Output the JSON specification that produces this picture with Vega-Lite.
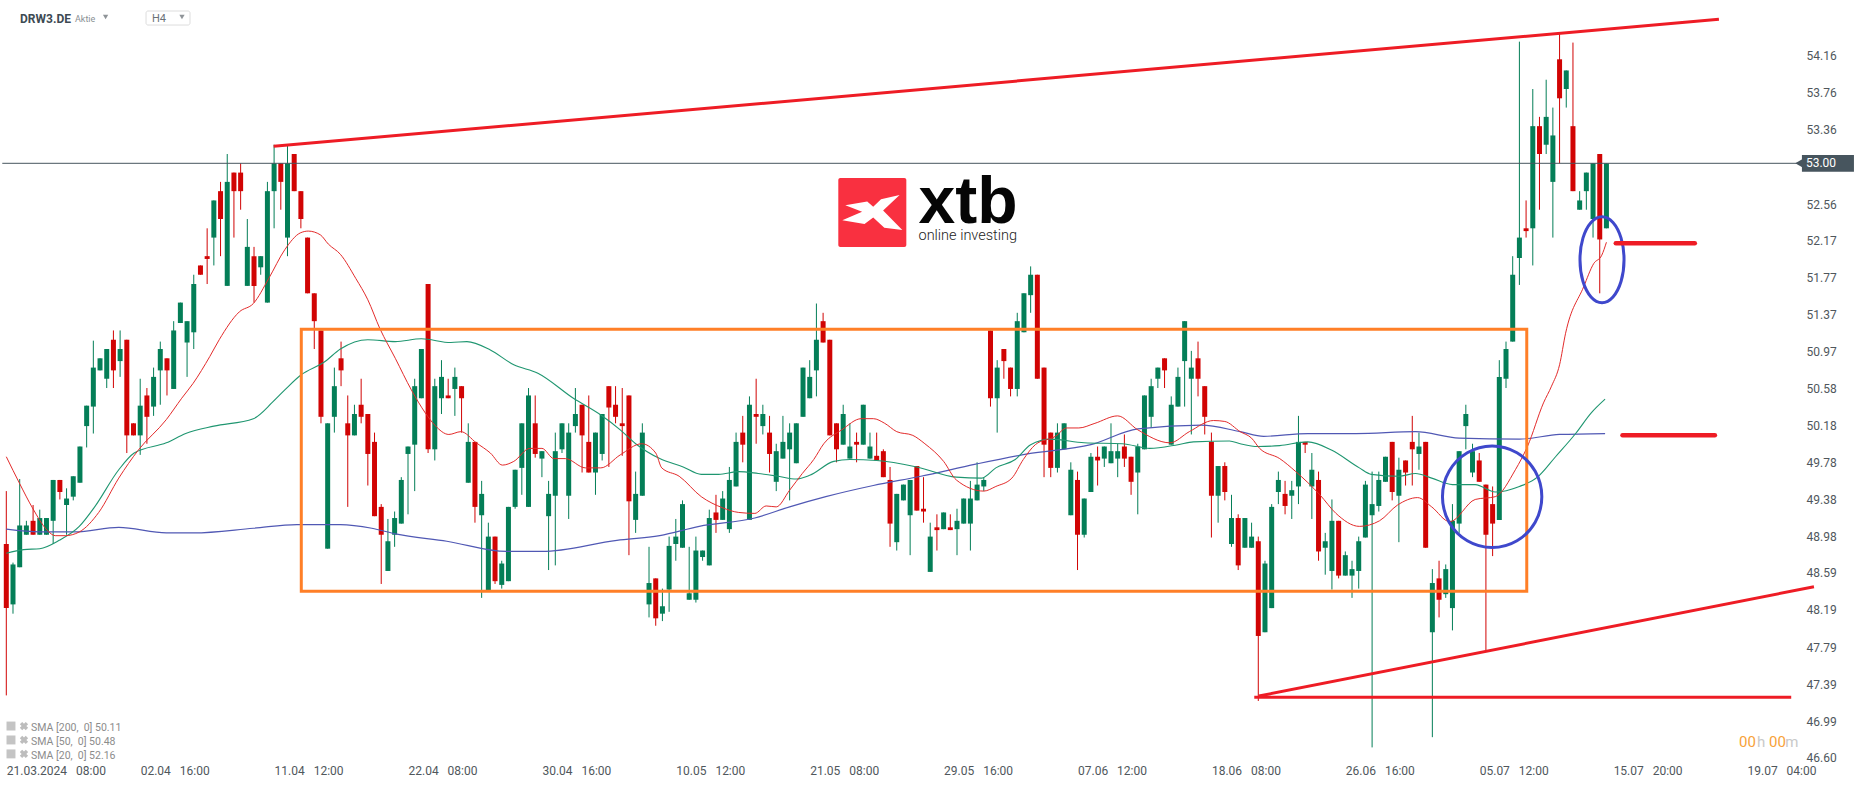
{
  "$schema": "https://vega.github.io/schema/vega-lite/v6.json",
  "width": 1866,
  "height": 787,
  "padding": 0,
  "autosize": "none",
  "background": "white",
  "view": {"stroke": null},
  "datasets": {
    "candles": [
      {"b":0,"o":48.9,"h":49.47,"l":47.27,"c":48.21},{"b":1,"o":48.25,"h":48.7,"l":48.15,"c":48.68},{"b":2,"o":48.65,"h":49.6,"l":48.65,"c":49.1},{"b":3,"o":49,"h":49.15,"l":49,"c":49.1},{"b":4,"o":49.15,"h":49.32,"l":49,"c":49},
      {"b":5,"o":49,"h":49.27,"l":49,"c":49.18},{"b":6,"o":49,"h":49.18,"l":49,"c":49.18},{"b":7,"o":49.15,"h":49.59,"l":48.9,"c":49.59},{"b":8,"o":49.59,"h":49.59,"l":49.38,"c":49.46},{"b":9,"o":49.32,"h":49.5,"l":49,"c":49.39},
      {"b":10,"o":49.41,"h":49.63,"l":49.37,"c":49.63},{"b":11,"o":49.56,"h":49.95,"l":49.56,"c":49.95},{"b":12,"o":50.17,"h":50.39,"l":49.94,"c":50.39},{"b":13,"o":50.38,"h":51.09,"l":50.09,"c":50.8},{"b":14,"o":50.77,"h":50.9,"l":50.77,"c":50.9},
      {"b":15,"o":50.68,"h":51,"l":50.58,"c":51},{"b":16,"o":51.1,"h":51.2,"l":50.58,"c":50.77},{"b":17,"o":50.87,"h":51.2,"l":50.7,"c":51},{"b":18,"o":51.1,"h":51.1,"l":49.88,"c":50.07},{"b":19,"o":50.2,"h":50.2,"l":50.07,"c":50.07},
      {"b":20,"o":50.07,"h":50.68,"l":49.86,"c":50.39},{"b":21,"o":50.5,"h":50.58,"l":49.98,"c":50.27},{"b":22,"o":50.38,"h":50.8,"l":50.28,"c":50.7},{"b":23,"o":50.77,"h":51.08,"l":50.4,"c":51},{"b":24,"o":50.9,"h":50.9,"l":50.5,"c":50.77},
      {"b":25,"o":50.57,"h":51.3,"l":50.57,"c":51.2},{"b":26,"o":51.28,"h":51.5,"l":51.28,"c":51.5},{"b":27,"o":51.07,"h":51.3,"l":50.7,"c":51.3},{"b":28,"o":51.18,"h":51.8,"l":51,"c":51.7},{"b":29,"o":51.9,"h":51.9,"l":51.8,"c":51.8},
      {"b":30,"o":52,"h":52.3,"l":51.7,"c":51.97},{"b":31,"o":52.2,"h":52.6,"l":51.9,"c":52.6},{"b":32,"o":52.7,"h":52.8,"l":52,"c":52.4},{"b":33,"o":51.68,"h":53.1,"l":51.68,"c":52.8},{"b":34,"o":52.9,"h":52.9,"l":52.2,"c":52.7},
      {"b":35,"o":52.9,"h":53,"l":52.5,"c":52.7},{"b":36,"o":51.68,"h":52.4,"l":51.68,"c":52.1},{"b":37,"o":52,"h":52.1,"l":51.5,"c":51.68},{"b":38,"o":51.88,"h":52,"l":51.8,"c":52},{"b":39,"o":51.5,"h":52.8,"l":51.5,"c":52.7},
      {"b":40,"o":52.7,"h":53.2,"l":52.3,"c":53},{"b":41,"o":53,"h":53,"l":52.5,"c":52.8},{"b":42,"o":52.2,"h":53.2,"l":52,"c":53},{"b":43,"o":53.1,"h":53.1,"l":52.7,"c":52.7},{"b":44,"o":52.7,"h":52.7,"l":52.3,"c":52.4},
      {"b":45,"o":52.2,"h":52.2,"l":51.6,"c":51.6},{"b":46,"o":51.6,"h":51.6,"l":51,"c":51.3},{"b":47,"o":51.2,"h":51.2,"l":50.2,"c":50.27},{"b":48,"o":48.85,"h":50.2,"l":48.85,"c":50.2},{"b":49,"o":50.27,"h":50.8,"l":50.1,"c":50.6},
      {"b":50,"o":50.9,"h":51.08,"l":50.6,"c":50.77},{"b":51,"o":50.2,"h":50.5,"l":49.3,"c":50.07},{"b":52,"o":50.07,"h":50.4,"l":50.07,"c":50.3},{"b":53,"o":50.4,"h":50.68,"l":50.2,"c":50.27},{"b":54,"o":50.3,"h":50.3,"l":49.53,"c":49.87},
      {"b":55,"o":50,"h":50.1,"l":49.2,"c":49.2},{"b":56,"o":49.3,"h":49.33,"l":48.47,"c":49},{"b":57,"o":48.61,"h":49.17,"l":48.61,"c":48.93},{"b":58,"o":49,"h":49.25,"l":48.87,"c":49.18},{"b":59,"o":49.12,"h":49.62,"l":49.12,"c":49.59},
      {"b":60,"o":49.87,"h":49.95,"l":49.22,"c":49.95},{"b":61,"o":49.97,"h":50.68,"l":49.47,"c":50.6},{"b":62,"o":50.47,"h":51,"l":50.47,"c":51},{"b":63,"o":51.7,"h":51.7,"l":49.88,"c":49.92},{"b":64,"o":49.92,"h":50.68,"l":49.8,"c":50.6},
      {"b":65,"o":50.47,"h":50.88,"l":50.3,"c":50.7},{"b":66,"o":50.5,"h":50.68,"l":50.47,"c":50.47},{"b":67,"o":50.57,"h":50.8,"l":50.28,"c":50.7},{"b":68,"o":50.6,"h":50.6,"l":50.1,"c":50.47},{"b":69,"o":49.56,"h":50.2,"l":49.56,"c":50},
      {"b":70,"o":50,"h":50,"l":49.13,"c":49.3},{"b":71,"o":49.21,"h":49.58,"l":48.32,"c":49.44},{"b":72,"o":48.4,"h":49.13,"l":48.4,"c":48.98},{"b":73,"o":48.98,"h":48.98,"l":48.47,"c":48.5},{"b":74,"o":48.46,"h":48.72,"l":48.42,"c":48.69},
      {"b":75,"o":48.5,"h":49.3,"l":48.5,"c":49.3},{"b":76,"o":49.3,"h":49.7,"l":49.28,"c":49.7},{"b":77,"o":49.72,"h":50.2,"l":49.43,"c":50.2},{"b":78,"o":49.3,"h":50.58,"l":49.3,"c":50.5},{"b":79,"o":50.2,"h":50.5,"l":49.83,"c":49.87},
      {"b":80,"o":49.82,"h":49.9,"l":49.62,"c":49.9},{"b":81,"o":49.2,"h":49.58,"l":48.62,"c":49.44},{"b":82,"o":49.42,"h":50.1,"l":48.67,"c":49.9},{"b":83,"o":49.92,"h":50.2,"l":49.88,"c":50.2},{"b":84,"o":49.42,"h":50.2,"l":49.17,"c":50.1},
      {"b":85,"o":50.17,"h":50.58,"l":50.1,"c":50.3},{"b":86,"o":50.4,"h":50.4,"l":49.67,"c":50.07},{"b":87,"o":50,"h":50.5,"l":49.67,"c":49.67},{"b":88,"o":49.67,"h":50.1,"l":49.43,"c":50.1},{"b":89,"o":49.87,"h":50.3,"l":49.8,"c":50.3},
      {"b":90,"o":50.6,"h":50.6,"l":49.73,"c":50.37},{"b":91,"o":50.4,"h":50.6,"l":50.2,"c":50.27},{"b":92,"o":50.2,"h":50.58,"l":49.85,"c":50.17},{"b":93,"o":50.5,"h":50.5,"l":48.78,"c":49.36},{"b":94,"o":49.16,"h":49.68,"l":49.02,"c":49.44},
      {"b":95,"o":49.42,"h":50.2,"l":49.42,"c":50.1},{"b":96,"o":48.25,"h":48.87,"l":48.11,"c":48.48},{"b":97,"o":48.53,"h":48.53,"l":48.02,"c":48.1},{"b":98,"o":48.15,"h":48.42,"l":48.07,"c":48.23},{"b":99,"o":48.41,"h":48.98,"l":48.17,"c":48.88},
      {"b":100,"o":48.9,"h":49.17,"l":48.72,"c":48.98},{"b":101,"o":48.86,"h":49.37,"l":48.86,"c":49.33},{"b":102,"o":48.3,"h":48.87,"l":48.3,"c":48.37},{"b":103,"o":48.3,"h":48.98,"l":48.27,"c":48.83},{"b":104,"o":48.76,"h":48.83,"l":48.72,"c":48.83},
      {"b":105,"o":48.67,"h":49.27,"l":48.67,"c":49.18},{"b":106,"o":49.24,"h":49.43,"l":49.02,"c":49.16},{"b":107,"o":49.16,"h":49.47,"l":49.16,"c":49.39},{"b":108,"o":49.06,"h":49.73,"l":49.02,"c":49.59},{"b":109,"o":49.52,"h":50.1,"l":49.52,"c":50},
      {"b":110,"o":50.1,"h":50.28,"l":49.78,"c":49.97},{"b":111,"o":49.16,"h":50.49,"l":49.16,"c":50.4},{"b":112,"o":50.3,"h":50.68,"l":49.98,"c":50.27},{"b":113,"o":50.17,"h":50.4,"l":50.08,"c":50.3},{"b":114,"o":50.1,"h":50.28,"l":49.67,"c":49.87},
      {"b":115,"o":49.57,"h":49.98,"l":49.47,"c":49.9},{"b":116,"o":49.82,"h":50.28,"l":49.82,"c":50},{"b":117,"o":49.92,"h":50.2,"l":49.37,"c":50.1},{"b":118,"o":49.77,"h":50.2,"l":49.77,"c":50.2},{"b":119,"o":50.27,"h":50.8,"l":50.27,"c":50.8},
      {"b":120,"o":50.47,"h":50.88,"l":50.47,"c":50.7},{"b":121,"o":50.77,"h":51.49,"l":50.49,"c":51.1},{"b":122,"o":51.3,"h":51.39,"l":51.07,"c":51.07},{"b":123,"o":51.1,"h":51.1,"l":50.07,"c":50.07},{"b":124,"o":50.2,"h":50.2,"l":49.78,"c":49.92},
      {"b":125,"o":49.97,"h":50.4,"l":49.97,"c":50.3},{"b":126,"o":49.82,"h":50.2,"l":49.82,"c":49.95},{"b":127,"o":50,"h":50.1,"l":49.78,"c":49.97},{"b":128,"o":49.97,"h":50.4,"l":49.97,"c":50.4},{"b":129,"o":49.82,"h":50.1,"l":49.82,"c":49.95},
      {"b":130,"o":49.85,"h":50.1,"l":49.8,"c":49.8},{"b":131,"o":49.9,"h":49.92,"l":49.62,"c":49.62},{"b":132,"o":49.59,"h":49.73,"l":48.87,"c":49.12},{"b":133,"o":48.92,"h":49.44,"l":48.83,"c":49.44},{"b":134,"o":49.37,"h":49.54,"l":49.37,"c":49.54},
      {"b":135,"o":49.21,"h":49.59,"l":48.78,"c":49.59},{"b":136,"o":49.74,"h":49.74,"l":49.26,"c":49.26},{"b":137,"o":49.28,"h":49.62,"l":49.13,"c":49.25},{"b":138,"o":48.6,"h":49.13,"l":48.6,"c":48.98},{"b":139,"o":49.08,"h":49.22,"l":48.83,"c":49.05},
      {"b":140,"o":49.06,"h":49.24,"l":49.06,"c":49.24},{"b":141,"o":49.08,"h":49.22,"l":49.05,"c":49.05},{"b":142,"o":49.06,"h":49.28,"l":48.78,"c":49.15},{"b":143,"o":49.12,"h":49.39,"l":49.12,"c":49.39},{"b":144,"o":49.12,"h":49.58,"l":48.83,"c":49.39},
      {"b":145,"o":49.37,"h":49.78,"l":49.37,"c":49.54},{"b":146,"o":49.52,"h":49.62,"l":49.47,"c":49.59},{"b":147,"o":51.2,"h":51.2,"l":50.38,"c":50.47},{"b":148,"o":50.47,"h":50.88,"l":50.1,"c":50.8},{"b":149,"o":51,"h":51,"l":50.68,"c":50.87},
      {"b":150,"o":50.8,"h":50.8,"l":50.49,"c":50.57},{"b":151,"o":50.57,"h":51.39,"l":50.49,"c":51.3},{"b":152,"o":51.18,"h":51.6,"l":51.18,"c":51.6},{"b":153,"o":51.58,"h":51.89,"l":51.39,"c":51.8},{"b":154,"o":51.8,"h":51.8,"l":50.68,"c":50.68},
      {"b":155,"o":50.8,"h":50.8,"l":49.62,"c":49.97},{"b":156,"o":50.1,"h":50.1,"l":49.62,"c":49.72},{"b":157,"o":49.72,"h":50.2,"l":49.67,"c":50.1},{"b":158,"o":49.92,"h":50.2,"l":49.92,"c":50.2},{"b":159,"o":49.21,"h":49.78,"l":49.21,"c":49.7},
      {"b":160,"o":49.59,"h":49.68,"l":48.62,"c":49},{"b":161,"o":49,"h":49.39,"l":48.97,"c":49.39},{"b":162,"o":49.46,"h":49.88,"l":49.46,"c":49.84},{"b":163,"o":49.84,"h":49.95,"l":49.53,"c":49.8},{"b":164,"o":49.82,"h":49.95,"l":49.73,"c":49.95},
      {"b":165,"o":49.77,"h":50.2,"l":49.77,"c":49.9},{"b":166,"o":49.82,"h":49.98,"l":49.62,"c":49.9},{"b":167,"o":49.95,"h":50.08,"l":49.73,"c":49.82},{"b":168,"o":49.84,"h":49.84,"l":49.43,"c":49.57},{"b":169,"o":49.67,"h":49.98,"l":49.22,"c":49.95},
      {"b":170,"o":49.92,"h":50.5,"l":49.92,"c":50.5},{"b":171,"o":50.27,"h":50.68,"l":50.15,"c":50.6},{"b":172,"o":50.68,"h":50.8,"l":50.58,"c":50.8},{"b":173,"o":50.9,"h":50.9,"l":50.58,"c":50.77},{"b":174,"o":49.97,"h":50.49,"l":49.97,"c":50.4},
      {"b":175,"o":50.38,"h":50.8,"l":50.38,"c":50.7},{"b":176,"o":50.87,"h":51.3,"l":50.38,"c":51.3},{"b":177,"o":50.68,"h":50.98,"l":50.08,"c":50.8},{"b":178,"o":50.9,"h":51.08,"l":50.49,"c":50.68},{"b":179,"o":50.6,"h":50.6,"l":50.08,"c":50.27},
      {"b":180,"o":50,"h":50.1,"l":48.97,"c":49.42},{"b":181,"o":49.42,"h":49.74,"l":49.13,"c":49.74},{"b":182,"o":49.74,"h":49.78,"l":49.37,"c":49.46},{"b":183,"o":48.9,"h":49.43,"l":48.87,"c":49.18},{"b":184,"o":49.18,"h":49.22,"l":48.62,"c":48.67},
      {"b":185,"o":48.86,"h":49.18,"l":48.86,"c":49.18},{"b":186,"o":48.86,"h":49.13,"l":48.86,"c":48.98},{"b":187,"o":48.93,"h":48.98,"l":47.21,"c":47.91},{"b":188,"o":47.95,"h":48.72,"l":47.95,"c":48.69},{"b":189,"o":48.21,"h":49.33,"l":48.21,"c":49.3},
      {"b":190,"o":49.46,"h":49.68,"l":49.33,"c":49.59},{"b":191,"o":49.44,"h":49.58,"l":49.22,"c":49.31},{"b":192,"o":49.42,"h":49.58,"l":49.17,"c":49.48},{"b":193,"o":49.52,"h":50.28,"l":49.33,"c":50},{"b":194,"o":50,"h":50,"l":49.88,"c":49.97},
      {"b":195,"o":49.52,"h":49.88,"l":49.17,"c":49.7},{"b":196,"o":49.59,"h":49.68,"l":48.72,"c":48.82},{"b":197,"o":48.86,"h":49.02,"l":48.57,"c":48.93},{"b":198,"o":48.61,"h":49.38,"l":48.41,"c":49.15},{"b":199,"o":49.15,"h":49.15,"l":48.53,"c":48.56},
      {"b":200,"o":48.56,"h":48.82,"l":48.56,"c":48.78},{"b":201,"o":48.56,"h":48.72,"l":48.32,"c":48.63},{"b":202,"o":48.61,"h":48.98,"l":48.42,"c":48.93},{"b":203,"o":48.97,"h":49.58,"l":48.97,"c":49.54},{"b":204,"o":49.21,"h":49.68,"l":46.71,"c":49.33},
      {"b":205,"o":49.31,"h":49.68,"l":49.25,"c":49.59},{"b":206,"o":49.57,"h":49.84,"l":49.57,"c":49.84},{"b":207,"o":50,"h":50,"l":49.37,"c":49.46},{"b":208,"o":49.42,"h":49.83,"l":48.92,"c":49.7},{"b":209,"o":49.8,"h":49.8,"l":49.53,"c":49.67},
      {"b":210,"o":50,"h":50.28,"l":49.53,"c":49.92},{"b":211,"o":49.87,"h":50.1,"l":49.7,"c":49.95},{"b":212,"o":50,"h":50,"l":48.86,"c":48.86},{"b":213,"o":47.95,"h":48.63,"l":46.82,"c":48.48},{"b":214,"o":48.53,"h":48.72,"l":48.11,"c":48.3},
      {"b":215,"o":48.36,"h":48.68,"l":48.32,"c":48.63},{"b":216,"o":48.21,"h":49.33,"l":47.97,"c":49.15},{"b":217,"o":49.12,"h":49.9,"l":49.02,"c":49.9},{"b":218,"o":50.17,"h":50.4,"l":49.92,"c":50.3},{"b":219,"o":49.67,"h":49.98,"l":49.62,"c":49.9},
      {"b":220,"o":49.8,"h":49.88,"l":49.57,"c":49.57},{"b":221,"o":49.54,"h":49.54,"l":47.75,"c":49},{"b":222,"o":49.33,"h":49.52,"l":48.77,"c":49.12},{"b":223,"o":49.16,"h":50.88,"l":49.16,"c":50.7},{"b":224,"o":50.68,"h":51.08,"l":50.58,"c":51},
      {"b":225,"o":51.08,"h":52,"l":51.08,"c":51.8},{"b":226,"o":51.98,"h":54.31,"l":51.69,"c":52.2},{"b":227,"o":52.3,"h":52.6,"l":52.2,"c":52.27},{"b":228,"o":52.3,"h":53.8,"l":51.9,"c":53.4},{"b":229,"o":53.4,"h":53.5,"l":52.5,"c":53.1},
      {"b":230,"o":53.2,"h":53.9,"l":53.1,"c":53.5},{"b":231,"o":52.8,"h":53.6,"l":52.2,"c":53.3},{"b":232,"o":54.12,"h":54.4,"l":53,"c":53.7},{"b":233,"o":53.8,"h":54,"l":53.6,"c":54},{"b":234,"o":53.4,"h":54.3,"l":52.7,"c":52.7},
      {"b":235,"o":52.5,"h":52.7,"l":52.5,"c":52.6},{"b":236,"o":52.7,"h":52.9,"l":52.5,"c":52.9},{"b":237,"o":52.4,"h":53,"l":52.2,"c":53},{"b":238,"o":53.1,"h":53.1,"l":51.6,"c":52.18},{"b":239,"o":52.3,"h":53,"l":52.3,"c":53}
    ],
    "sma200": [
      {"b":0,"v":49.06},{"b":5,"v":49.03},{"b":10.3,"v":49.03},{"b":16.8,"v":49.08},{"b":23.9,"v":49.02},{"b":28,"v":49.02},{"b":36.9,"v":49.07},{"b":43.4,"v":49.11},{"b":49.9,"v":49.11},{"b":54.6,"v":49.07},{"b":58.1,"v":49.01},{"b":65.8,"v":48.93},{"b":74.7,"v":48.82},{"b":80,"v":48.82},{"b":91.2,"v":48.94},{"b":97.6,"v":48.99},{"b":103.5,"v":49.09},{"b":111.8,"v":49.18},{"b":117,"v":49.3},{"b":122.4,"v":49.41},{"b":129.5,"v":49.53},{"b":136.6,"v":49.63},{"b":144.8,"v":49.76},{"b":152.5,"v":49.87},{"b":162,"v":49.97},{"b":169,"v":50.14},{"b":178.5,"v":50.18},{"b":184.3,"v":50.11},{"b":187.8,"v":50.06},{"b":194.4,"v":50.09},{"b":201.6,"v":50.09},{"b":210.5,"v":50.11},{"b":217,"v":50.04},{"b":226,"v":50.03},{"b":232,"v":50.08},{"b":238.8,"v":50.09}
    ],
    "sma50": [
      {"b":0,"v":48.8},{"b":2.6,"v":48.84},{"b":5,"v":48.85},{"b":7.9,"v":48.94},{"b":10.9,"v":49.09},{"b":13.2,"v":49.3},{"b":16.8,"v":49.7},{"b":19.1,"v":49.88},{"b":23.9,"v":49.99},{"b":26.8,"v":50.09},{"b":31,"v":50.17},{"b":36.9,"v":50.25},{"b":39.8,"v":50.43},{"b":41.6,"v":50.56},{"b":44,"v":50.72},{"b":47.5,"v":50.86},{"b":49.9,"v":51},{"b":54,"v":51.1},{"b":58.1,"v":51.08},{"b":62,"v":51.11},{"b":66.4,"v":51.07},{"b":68.8,"v":51.08},{"b":72.3,"v":50.99},{"b":75.8,"v":50.83},{"b":79.4,"v":50.74},{"b":84.7,"v":50.47},{"b":88.8,"v":50.29},{"b":91.7,"v":50.13},{"b":94,"v":49.98},{"b":97.6,"v":49.82},{"b":101.1,"v":49.73},{"b":103.8,"v":49.65},{"b":106.4,"v":49.65},{"b":109.4,"v":49.68},{"b":112.3,"v":49.66},{"b":115.3,"v":49.63},{"b":118,"v":49.6},{"b":120,"v":49.64},{"b":123.6,"v":49.79},{"b":126,"v":49.81},{"b":130,"v":49.8},{"b":136,"v":49.73},{"b":141.9,"v":49.62},{"b":145.7,"v":49.61},{"b":147.8,"v":49.72},{"b":150.7,"v":49.81},{"b":153,"v":49.97},{"b":156,"v":50.03},{"b":161,"v":49.99},{"b":166.7,"v":49.98},{"b":170.8,"v":49.93},{"b":175,"v":49.97},{"b":177.3,"v":50},{"b":182.7,"v":50.01},{"b":184.3,"v":49.98},{"b":186.9,"v":49.95},{"b":190.2,"v":49.96},{"b":194.4,"v":50},{"b":198,"v":49.91},{"b":202.1,"v":49.72},{"b":203.9,"v":49.65},{"b":208,"v":49.63},{"b":210.5,"v":49.66},{"b":212.9,"v":49.61},{"b":216,"v":49.54},{"b":219.4,"v":49.54},{"b":222.4,"v":49.46},{"b":226,"v":49.52},{"b":228.7,"v":49.62},{"b":231.4,"v":49.84},{"b":234.4,"v":50.09},{"b":236.7,"v":50.31},{"b":238.8,"v":50.46}
    ],
    "sma20": [
      {"b":0,"v":49.84},{"b":2,"v":49.55},{"b":3.9,"v":49.29},{"b":6.1,"v":49.05},{"b":7.3,"v":48.99},{"b":8.8,"v":48.99},{"b":10.9,"v":49.03},{"b":13.8,"v":49.24},{"b":16.8,"v":49.61},{"b":19.7,"v":49.91},{"b":23.9,"v":50.24},{"b":26.2,"v":50.47},{"b":27.9,"v":50.63},{"b":30.4,"v":50.92},{"b":31.8,"v":51.1},{"b":34.8,"v":51.4},{"b":36.9,"v":51.49},{"b":39.2,"v":51.76},{"b":41.6,"v":52.07},{"b":43.9,"v":52.25},{"b":45.1,"v":52.27},{"b":46.9,"v":52.23},{"b":48.1,"v":52.13},{"b":49.9,"v":52.02},{"b":52.2,"v":51.76},{"b":54,"v":51.53},{"b":55.8,"v":51.22},{"b":58.1,"v":50.9},{"b":60.5,"v":50.56},{"b":62.6,"v":50.31},{"b":64,"v":50.18},{"b":66.1,"v":50.08},{"b":67.9,"v":50.11},{"b":70.2,"v":49.99},{"b":72.3,"v":49.88},{"b":74.1,"v":49.75},{"b":75.8,"v":49.79},{"b":78.2,"v":49.93},{"b":80,"v":49.93},{"b":81.8,"v":49.82},{"b":83.5,"v":49.82},{"b":86.5,"v":49.72},{"b":88.8,"v":49.72},{"b":91.7,"v":49.86},{"b":94.9,"v":49.98},{"b":97,"v":49.88},{"b":97.9,"v":49.72},{"b":100.5,"v":49.63},{"b":103.8,"v":49.41},{"b":107,"v":49.29},{"b":109.4,"v":49.24},{"b":111.8,"v":49.23},{"b":113.5,"v":49.31},{"b":115,"v":49.3},{"b":117,"v":49.48},{"b":118.9,"v":49.66},{"b":120.6,"v":49.81},{"b":122.1,"v":49.98},{"b":124.8,"v":50.13},{"b":127.7,"v":50.25},{"b":129.5,"v":50.25},{"b":131.2,"v":50.2},{"b":133,"v":50.11},{"b":135.4,"v":50.07},{"b":137.2,"v":49.98},{"b":140,"v":49.79},{"b":141.9,"v":49.59},{"b":146,"v":49.47},{"b":147.8,"v":49.52},{"b":150.2,"v":49.61},{"b":151.9,"v":49.81},{"b":153.7,"v":49.97},{"b":156.7,"v":50.06},{"b":158.4,"v":50.15},{"b":160.2,"v":50.15},{"b":162.6,"v":50.2},{"b":166,"v":50.28},{"b":169,"v":50.13},{"b":173.8,"v":49.99},{"b":176.7,"v":50.11},{"b":180.3,"v":50.23},{"b":182,"v":50.22},{"b":184.3,"v":50.11},{"b":186,"v":50.04},{"b":187.2,"v":49.93},{"b":190.2,"v":49.82},{"b":192.6,"v":49.68},{"b":196.2,"v":49.43},{"b":198.6,"v":49.23},{"b":202.1,"v":49.09},{"b":205.1,"v":49.15},{"b":207.8,"v":49.32},{"b":210.8,"v":49.4},{"b":212.9,"v":49.3},{"b":215.6,"v":49.14},{"b":219.4,"v":49.38},{"b":222.4,"v":49.41},{"b":225.4,"v":49.7},{"b":227.2,"v":49.95},{"b":229.6,"v":50.42},{"b":230.8,"v":50.6},{"b":232,"v":50.83},{"b":232.9,"v":51.17},{"b":235.6,"v":51.67},{"b":237.1,"v":51.92},{"b":238.3,"v":52.01},{"b":239,"v":52.15}
    ],
    "circle1": [
      {"n":0,"b":229.35,"v":49.409},{"n":1,"b":228.36,"v":49.683},{"n":2,"b":225.64,"v":49.883},{"n":3,"b":221.93,"v":49.956},{"n":4,"b":218.22,"v":49.883},{"n":5,"b":215.5,"v":49.683},{"n":6,"b":214.51,"v":49.409},{"n":7,"b":215.5,"v":49.135},{"n":8,"b":218.22,"v":48.935},{"n":9,"b":221.93,"v":48.862},{"n":10,"b":225.64,"v":48.935},{"n":11,"b":228.36,"v":49.135}
    ],
    "circle2": [
      {"n":0,"b":241.63,"v":51.962},{"n":1,"b":241.19,"v":52.194},{"n":2,"b":239.98,"v":52.363},{"n":3,"b":238.34,"v":52.425},{"n":4,"b":236.7,"v":52.363},{"n":5,"b":235.49,"v":52.194},{"n":6,"b":235.05,"v":51.962},{"n":7,"b":235.49,"v":51.73},{"n":8,"b":236.7,"v":51.561},{"n":9,"b":238.34,"v":51.499},{"n":10,"b":239.98,"v":51.561},{"n":11,"b":241.19,"v":51.73}
    ]
  },
  "data": {"name": "candles"},
  "layer": [
    {
      "mark": {"type": "rule", "strokeWidth": 1},
      "encoding": {
        "x": {
          "field": "b", "type": "quantitative", "title": null,
          "scale": {"domain": [-0.941, 277.77], "nice": false, "zero": false, "padding": 0},
          "axis": {
            "orient": "bottom", "offset": -17, "values": [0,20,40,60,80,100,120,140,160,180,200,220,240,260],
            "labelExpr": "{'0':'21.03.2024\u00a0\u00a0\u00a008:00','20':'02.04\u00a0\u00a0\u00a016:00','40':'11.04\u00a0\u00a0\u00a012:00','60':'22.04\u00a0\u00a0\u00a008:00','80':'30.04\u00a0\u00a0\u00a016:00','100':'10.05\u00a0\u00a0\u00a012:00','120':'21.05\u00a0\u00a0\u00a008:00','140':'29.05\u00a0\u00a0\u00a016:00','160':'07.06\u00a0\u00a0\u00a012:00','180':'18.06\u00a0\u00a0\u00a008:00','200':'26.06\u00a0\u00a0\u00a016:00','220':'05.07\u00a0\u00a0\u00a012:00','240':'15.07\u00a0\u00a0\u00a020:00','260':'19.07\u00a0\u00a0\u00a004:00'}[datum.value]",
            "domain": false, "ticks": false, "grid": false, "labelPadding": 0, "labelAlign": "left", "labelBaseline": "middle",
            "labelFont": "Roboto", "labelFontSize": 12, "labelColor": "#50575c", "labelOverlap": false, "labelBound": false, "labelFlush": false
          }
        },
        "y": {
          "field": "l", "type": "quantitative", "title": null,
          "scale": {"domain": [46.2835, 54.7586], "nice": false, "zero": false, "padding": 0},
          "axis": {
            "orient": "right", "offset": -60, "values": [54.16,53.76,53.36,52.56,52.17,51.77,51.37,50.97,50.58,50.18,49.78,49.38,48.98,48.59,48.19,47.79,47.39,46.99,46.6],
            "format": ".2f", "domain": false, "ticks": false, "grid": false, "labelPadding": 0, "labelAlign": "left", "labelBaseline": "middle",
            "labelFont": "Roboto", "labelFontSize": 12, "labelColor": "#50575c", "labelOverlap": false, "labelBound": false
          }
        },
        "y2": {"field": "h"},
        "color": {"condition": {"test": "datum.c >= datum.o", "value": "#047e57"}, "value": "#d10404"}
      }
    },
    {
      "mark": {"type": "bar", "size": 5, "orient": "vertical"},
      "encoding": {
        "x": {"field": "b", "type": "quantitative", "title": null},
        "y": {"field": "o", "type": "quantitative", "title": null},
        "y2": {"field": "c"},
        "color": {"condition": {"test": "datum.c >= datum.o", "value": "#047e57"}, "value": "#d10404"}
      }
    },
    {
      "data": {"name": "sma200"},
      "mark": {"type": "line", "stroke": "#5058b4", "strokeWidth": 1.2, "interpolate": "monotone"},
      "encoding": {"x": {"field": "b", "type": "quantitative", "title": null}, "y": {"field": "v", "type": "quantitative", "title": null}}
    },
    {
      "data": {"name": "sma50"},
      "mark": {"type": "line", "stroke": "#1f9670", "strokeWidth": 1.1, "interpolate": "monotone"},
      "encoding": {"x": {"field": "b", "type": "quantitative", "title": null}, "y": {"field": "v", "type": "quantitative", "title": null}}
    },
    {
      "data": {"name": "sma20"},
      "mark": {"type": "line", "stroke": "#e32b2b", "strokeWidth": 1, "interpolate": "monotone"},
      "encoding": {"x": {"field": "b", "type": "quantitative", "title": null}, "y": {"field": "v", "type": "quantitative", "title": null}}
    },
    {
      "data": {"values": [{"b1": 44.06, "b2": 227.1, "p1": 51.212, "p2": 48.391}]},
      "mark": {"type": "rect", "fill": null, "fillOpacity": 0, "stroke": "#ff7f27", "strokeWidth": 3},
      "encoding": {
        "x": {"field": "b1", "type": "quantitative", "title": null}, "x2": {"field": "b2"},
        "y": {"field": "p1", "type": "quantitative", "title": null}, "y2": {"field": "p2"}
      }
    },
    {
      "data": {"name": "circle1"},
      "mark": {"type": "line", "stroke": "#3f48cc", "strokeWidth": 3, "interpolate": "cardinal-closed"},
      "encoding": {"x": {"field": "b", "type": "quantitative", "title": null}, "y": {"field": "v", "type": "quantitative", "title": null}, "order": {"field": "n"}}
    },
    {
      "data": {"name": "circle2"},
      "mark": {"type": "line", "stroke": "#3f48cc", "strokeWidth": 3, "interpolate": "cardinal-closed"},
      "encoding": {"x": {"field": "b", "type": "quantitative", "title": null}, "y": {"field": "v", "type": "quantitative", "title": null}, "order": {"field": "n"}}
    },
    {
      "data": {"values": [
        {"b1": 39.93, "p1": 53.183, "b2": 255.8, "p2": 54.551},
        {"b1": 187.08, "p1": 47.263, "b2": 270, "p2": 48.44},
        {"b1": 186.4, "p1": 47.249, "b2": 266.6, "p2": 47.249}
      ]},
      "mark": {"type": "rule", "stroke": "#ee1c25", "strokeWidth": 3},
      "encoding": {
        "x": {"field": "b1", "type": "quantitative", "title": null}, "x2": {"field": "b2"},
        "y": {"field": "p1", "type": "quantitative", "title": null}, "y2": {"field": "p2"}
      }
    },
    {
      "data": {"values": [
        {"b1": 240.4, "b2": 252.2, "p1": 52.138},
        {"b1": 241.4, "b2": 255.2, "p1": 50.071}
      ]},
      "mark": {"type": "rule", "stroke": "#ee1c25", "strokeWidth": 4.5, "strokeCap": "round"},
      "encoding": {
        "x": {"field": "b1", "type": "quantitative", "title": null}, "x2": {"field": "b2"},
        "y": {"field": "p1", "type": "quantitative", "title": null}
      }
    },
    {
      "data": {"values": [{"b1": -0.6, "b2": 267.7, "p1": 53}]},
      "mark": {"type": "rule", "stroke": "#47555e", "strokeWidth": 1},
      "encoding": {
        "x": {"field": "b1", "type": "quantitative", "title": null}, "x2": {"field": "b2"},
        "y": {"field": "p1", "type": "quantitative", "title": null}
      }
    },
    {
      "data": {"values": [{"b1": 268.2, "b2": 275.97, "p1": 53.09, "p2": 52.91}]},
      "mark": {"type": "rect", "fill": "#47555e"},
      "encoding": {
        "x": {"field": "b1", "type": "quantitative", "title": null}, "x2": {"field": "b2"},
        "y": {"field": "p1", "type": "quantitative", "title": null}, "y2": {"field": "p2"}
      }
    },
    {
      "data": {"values": [{"b1": 267.95, "p1": 53}]},
      "mark": {"type": "point", "shape": "triangle-left", "filled": true, "fill": "#47555e", "opacity": 1, "size": 130},
      "encoding": {"x": {"field": "b1", "type": "quantitative", "title": null}, "y": {"field": "p1", "type": "quantitative", "title": null}}
    },
    {
      "data": {"values": [{"b1": 268.8, "p1": 53, "t": "53.00"}]},
      "mark": {"type": "text", "font": "Roboto", "fontSize": 12, "fill": "white", "align": "left", "baseline": "middle"},
      "encoding": {"x": {"field": "b1", "type": "quantitative", "title": null}, "y": {"field": "p1", "type": "quantitative", "title": null}, "text": {"field": "t"}}
    },
    {
      "data": {"values": [{"b1": 124.27, "b2": 134.43, "p1": 52.842, "p2": 52.099}]},
      "mark": {"type": "rect", "fill": "#f93040", "cornerRadius": 2},
      "encoding": {
        "x": {"field": "b1", "type": "quantitative", "title": null}, "x2": {"field": "b2"},
        "y": {"field": "p1", "type": "quantitative", "title": null}, "y2": {"field": "p2"}
      }
    },
    {
      "data": {"values": [{"b1": 129.35, "p1": 52.472}]},
      "mark": {"type": "point", "filled": true, "fill": "white", "opacity": 1, "size": 3600, "shape": "M0.91,-0.58 L0.29,-0.44 L0.03,-0.19 L-0.17,-0.36 L-0.9,-0.24 L-0.34,-0.02 L-1,0.26 L-0.26,0.39 L0.03,0.17 L0.4,0.51 L1,0.59 L0.36,-0.06 Z"},
      "encoding": {"x": {"field": "b1", "type": "quantitative", "title": null}, "y": {"field": "p1", "type": "quantitative", "title": null}}
    },
    {
      "data": {"values": [{"b1": 136.25, "p1": 52.357, "t": "xtb"}]},
      "mark": {"type": "text", "font": "Liberation Sans", "fontWeight": "bold", "fontSize": 66, "fill": "#050505", "align": "left", "baseline": "alphabetic"},
      "encoding": {"x": {"field": "b1", "type": "quantitative", "title": null}, "y": {"field": "p1", "type": "quantitative", "title": null}, "text": {"field": "t"}}
    },
    {
      "data": {"values": [{"b1": 136.25, "p1": 52.174, "t": "online investing"}]},
      "mark": {"type": "text", "font": "Roboto", "fontWeight": 300, "fontSize": 14.5, "fill": "#222222", "align": "left", "baseline": "alphabetic"},
      "encoding": {"x": {"field": "b1", "type": "quantitative", "title": null}, "y": {"field": "p1", "type": "quantitative", "title": null}, "text": {"field": "t"}}
    },
    {
      "data": {"values": [{"b1": 2.05, "p1": 54.554, "t": "DRW3.DE"}]},
      "mark": {"type": "text", "font": "Roboto", "fontWeight": "bold", "fontSize": 12, "fill": "#3d4a53", "align": "left", "baseline": "middle"},
      "encoding": {"x": {"field": "b1", "type": "quantitative", "title": null}, "y": {"field": "p1", "type": "quantitative", "title": null}, "text": {"field": "t"}}
    },
    {
      "data": {"values": [{"b1": 10.26, "p1": 54.549, "t": "Aktie"}]},
      "mark": {"type": "text", "font": "Roboto", "fontSize": 9, "fill": "#8a8f93", "align": "left", "baseline": "middle"},
      "encoding": {"x": {"field": "b1", "type": "quantitative", "title": null}, "y": {"field": "p1", "type": "quantitative", "title": null}, "text": {"field": "t"}}
    },
    {
      "data": {"values": [{"b1": 20.87, "b2": 27.44, "p1": 54.64, "p2": 54.489}]},
      "mark": {"type": "rect", "fill": "white", "stroke": "#dddddd", "strokeWidth": 1, "cornerRadius": 2},
      "encoding": {
        "x": {"field": "b1", "type": "quantitative", "title": null}, "x2": {"field": "b2"},
        "y": {"field": "p1", "type": "quantitative", "title": null}, "y2": {"field": "p2"}
      }
    },
    {
      "data": {"values": [{"b1": 21.76, "p1": 54.55, "t": "H4"}]},
      "mark": {"type": "text", "font": "Roboto", "fontSize": 11, "fill": "#6b7278", "align": "left", "baseline": "middle"},
      "encoding": {"x": {"field": "b1", "type": "quantitative", "title": null}, "y": {"field": "p1", "type": "quantitative", "title": null}, "text": {"field": "t"}}
    },
    {
      "data": {"values": [{"b1": 14.83, "p1": 54.575}, {"b1": 26.24, "p1": 54.575}]},
      "mark": {"type": "point", "shape": "triangle-down", "filled": true, "fill": "#8f9498", "opacity": 1, "size": 28},
      "encoding": {"x": {"field": "b1", "type": "quantitative", "title": null}, "y": {"field": "p1", "type": "quantitative", "title": null}}
    },
    {
      "data": {"values": [
        {"b1": 3.69, "p1": 46.919, "t": "SMA [200,\u00a0\u00a00] 50.11"},
        {"b1": 3.69, "p1": 46.768, "t": "SMA [50,\u00a0\u00a00] 50.48"},
        {"b1": 3.69, "p1": 46.617, "t": "SMA [20,\u00a0\u00a00] 52.16"}
      ]},
      "mark": {"type": "text", "font": "Roboto", "fontSize": 10.5, "fill": "#8c8c8c", "align": "left", "baseline": "middle"},
      "encoding": {"x": {"field": "b1", "type": "quantitative", "title": null}, "y": {"field": "p1", "type": "quantitative", "title": null}, "text": {"field": "t"}}
    },
    {
      "data": {"values": [{"b1": 0.7, "p1": 46.94}, {"b1": 0.7, "p1": 46.79}, {"b1": 0.7, "p1": 46.64}]},
      "mark": {"type": "point", "shape": "square", "filled": true, "fill": "#c4c4c4", "opacity": 1, "size": 80},
      "encoding": {"x": {"field": "b1", "type": "quantitative", "title": null}, "y": {"field": "p1", "type": "quantitative", "title": null}}
    },
    {
      "data": {"values": [{"b1": 2.64, "p1": 46.94}, {"b1": 2.64, "p1": 46.79}, {"b1": 2.64, "p1": 46.64}]},
      "mark": {"type": "point", "shape": "cross", "angle": 45, "filled": true, "fill": "#bdbdbd", "opacity": 1, "size": 70},
      "encoding": {"x": {"field": "b1", "type": "quantitative", "title": null}, "y": {"field": "p1", "type": "quantitative", "title": null}}
    },
    {
      "data": {"values": [{"b1": 258.8, "p1": 46.768, "t": "00"}, {"b1": 263.3, "p1": 46.768, "t": "00"}]},
      "mark": {"type": "text", "font": "Roboto", "fontSize": 15, "fill": "#f7a239", "align": "left", "baseline": "middle"},
      "encoding": {"x": {"field": "b1", "type": "quantitative", "title": null}, "y": {"field": "p1", "type": "quantitative", "title": null}, "text": {"field": "t"}}
    },
    {
      "data": {"values": [{"b1": 261.5, "p1": 46.768, "t": "h"}, {"b1": 265.7, "p1": 46.768, "t": "m"}]},
      "mark": {"type": "text", "font": "Roboto", "fontSize": 15, "fill": "#c9c9c9", "align": "left", "baseline": "middle"},
      "encoding": {"x": {"field": "b1", "type": "quantitative", "title": null}, "y": {"field": "p1", "type": "quantitative", "title": null}, "text": {"field": "t"}}
    }
  ]
}
